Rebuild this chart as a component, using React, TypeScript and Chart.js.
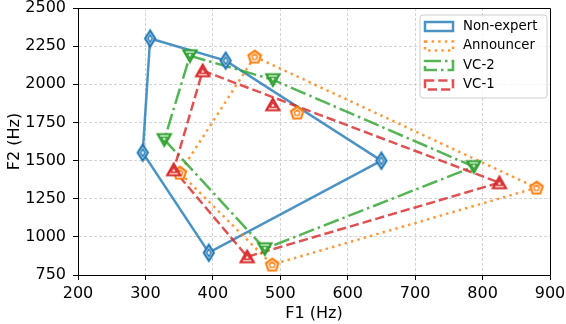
import React, { useEffect, useRef } from 'react';
import { Chart, registerables } from 'chart.js';

Chart.register(...registerables);

const FONT = "'DejaVu Sans', 'Liberation Sans', sans-serif";

// Vowel order: i, e, a, o, u
const vowels = ['i', 'e', 'a', 'o', 'u'];

const nonExpertF1 = [307, 419, 650, 394, 296];
const nonExpertF2 = [2300, 2155, 1499, 896, 1552];
const nonExpertOutline = [0, 1, 2, 3, 4];

const announcerF1 = [462, 525, 880, 488, 351];
const announcerF2 = [2181, 1814, 1322, 818, 1420];
const announcerOutline = [0, 2, 3, 4];

const vc2F1 = [366, 489, 787, 477, 328];
const vc2F2 = [2187, 2030, 1460, 922, 1637];
const vc2Outline = [0, 1, 2, 3, 4];

const vc1F1 = [385, 489, 825, 451, 342];
const vc1F2 = [2089, 1866, 1355, 870, 1440];
const vc1Outline = [0, 2, 3, 4];

const xTickValues = [200, 300, 400, 500, 600, 700, 800, 900];
const yTickValues = [750, 1000, 1250, 1500, 1750, 2000, 2250, 2500];

type Shape = 'thinDiamond' | 'pentagon' | 'triUp' | 'triDown';

function shapePoints(shape: Shape, s: number): [number, number][] {
  if (shape === 'thinDiamond') return [[0, -8 * s], [5 * s, 0], [0, 8 * s], [-5 * s, 0]];
  if (shape === 'pentagon') {
    const pts: [number, number][] = [];
    for (let k = 0; k < 5; k++) {
      const a = -Math.PI / 2 + (k * 2 * Math.PI) / 5;
      pts.push([Math.cos(a) * 6.5 * s, Math.sin(a) * 6.5 * s + 0.5 * s]);
    }
    return pts;
  }
  if (shape === 'triUp') return [[0, -6 * s], [6.5 * s, 5.5 * s], [-6.5 * s, 5.5 * s]];
  return [[0, 6 * s], [-6.5 * s, -5.5 * s], [6.5 * s, -5.5 * s]];
}

function makeMarker(shape: Shape, color: string): HTMLCanvasElement {
  const size = 22;
  const c = document.createElement('canvas');
  c.width = size;
  c.height = size;
  const ctx = c.getContext('2d')!;
  const cx = size / 2;
  const cy = size / 2;
  const trace = (s: number) => {
    const pts = shapePoints(shape, s);
    ctx.beginPath();
    pts.forEach(([x, y], i) => (i === 0 ? ctx.moveTo(cx + x, cy + y) : ctx.lineTo(cx + x, cy + y)));
    ctx.closePath();
  };
  ctx.lineJoin = 'miter';
  trace(1);
  ctx.fillStyle = 'rgba(255,255,255,0.9)';
  ctx.fill();
  ctx.strokeStyle = color;
  ctx.lineWidth = 2.2;
  ctx.stroke();
  trace(0.45);
  ctx.lineWidth = 1.4;
  ctx.stroke();
  return c;
}

interface Series {
  label: string;
  f1: number[];
  f2: number[];
  outline: number[];
  rgb: [number, number, number];
  dash: number[];
  marker: Shape;
}

const legendPlugin = {
  id: 'boxLegend',
  afterDraw(chart: any) {
    const ctx: CanvasRenderingContext2D = chart.ctx;
    const ca = chart.chartArea;
    // axes frame (top & right spines)
    ctx.save();
    ctx.strokeStyle = '#000';
    ctx.lineWidth = 1;
    ctx.beginPath();
    ctx.moveTo(ca.left, ca.top + 0.5);
    ctx.lineTo(ca.right + 0.5, ca.top + 0.5);
    ctx.lineTo(ca.right + 0.5, ca.bottom);
    ctx.stroke();
    ctx.restore();

    const items = chart.data.datasets.filter((d: any) => d.isOutline);
    const x0 = ca.right - 130;
    const y0 = ca.top + 7;
    const w = 127;
    const h = 83;
    ctx.save();
    ctx.beginPath();
    const r = 3;
    ctx.moveTo(x0 + r, y0);
    ctx.arcTo(x0 + w, y0, x0 + w, y0 + h, r);
    ctx.arcTo(x0 + w, y0 + h, x0, y0 + h, r);
    ctx.arcTo(x0, y0 + h, x0, y0, r);
    ctx.arcTo(x0, y0, x0 + w, y0, r);
    ctx.closePath();
    ctx.fillStyle = 'rgba(255,255,255,0.8)';
    ctx.fill();
    ctx.strokeStyle = '#cccccc';
    ctx.lineWidth = 1;
    ctx.stroke();

    items.forEach((d: any, i: number) => {
      const cy = y0 + 11.5 + i * 19.5;
      ctx.save();
      ctx.strokeStyle = d.borderColor;
      ctx.lineWidth = 2.5;
      ctx.setLineDash(d.borderDash || []);
      ctx.lineCap = 'butt';
      ctx.beginPath();
      ctx.rect(x0 + 5, cy - 4.5, 28, 9);
      ctx.stroke();
      ctx.restore();
      ctx.fillStyle = '#000';
      ctx.font = `13.3px ${FONT}`;
      ctx.textBaseline = 'middle';
      ctx.textAlign = 'left';
      ctx.fillText(d.label, x0 + 43, cy);
    });
    ctx.restore();
  },
};

export default function App() {
  const ref = useRef<HTMLCanvasElement>(null);

  useEffect(() => {
    const canvas = ref.current;
    if (!canvas) return;

    const series: Series[] = [
      { label: 'Non-expert', f1: nonExpertF1, f2: nonExpertF2, outline: nonExpertOutline, rgb: [31, 119, 180], dash: [], marker: 'thinDiamond' },
      { label: 'Announcer', f1: announcerF1, f2: announcerF2, outline: announcerOutline, rgb: [255, 127, 14], dash: [2.5, 4.1], marker: 'pentagon' },
      { label: 'VC-2', f1: vc2F1, f2: vc2F2, outline: vc2Outline, rgb: [44, 160, 44], dash: [16, 4, 2.5, 4], marker: 'triDown' },
      { label: 'VC-1', f1: vc1F1, f2: vc1F2, outline: vc1Outline, rgb: [214, 39, 40], dash: [9.25, 4], marker: 'triUp' },
    ];

    const datasets: any[] = [];
    series.forEach((s, i) => {
      const idx = s.outline.concat([s.outline[0]]);
      datasets.push({
        label: s.label,
        isOutline: true,
        data: idx.map((k) => ({ x: s.f1[k], y: s.f2[k] })),
        showLine: true,
        fill: false,
        tension: 0,
        borderColor: `rgba(${s.rgb.join(',')},0.8)`,
        backgroundColor: 'transparent',
        borderWidth: 2.5,
        borderDash: s.dash,
        borderCapStyle: 'butt',
        borderJoinStyle: 'miter',
        pointRadius: 0,
        pointHoverRadius: 0,
        order: 20 - i,
      });
    });
    series.forEach((s, i) => {
      const color = `rgb(${s.rgb.join(',')})`;
      datasets.push({
        label: s.label + ' (' + vowels.join(',') + ')',
        data: s.f1.map((v, k) => ({ x: v, y: s.f2[k] })),
        showLine: false,
        pointStyle: makeMarker(s.marker, color),
        pointRadius: 6,
        pointHoverRadius: 6,
        order: 10 - i,
      });
    });

    const tickFont = { family: FONT, size: 16 };
    const plain = (v: any) => String(v);

    const chart = new Chart(canvas, {
      type: 'scatter',
      data: { datasets },
      options: {
        animation: false,
        responsive: false,
        maintainAspectRatio: false,
        events: [],
        layout: { padding: { left: 0, top: 8, right: 16, bottom: 0 } },
        plugins: { legend: { display: false }, tooltip: { enabled: false } },
        scales: {
          x: {
            type: 'linear',
            min: 200,
            max: 900,
            afterBuildTicks: (scale: any) => {
              scale.ticks = xTickValues.map((v) => ({ value: v }));
            },
            afterFit: (scale: any) => {
              scale.height = 49;
              scale.paddingLeft = 0;
              scale.paddingRight = 0;
            },
            border: { display: true, color: '#000', width: 1, dash: [3, 2] },
            grid: { color: '#c8c8c8', lineWidth: 0.8, tickColor: '#000', tickLength: 5, tickWidth: 1, tickBorderDash: [] },
            ticks: { color: '#000', font: tickFont, padding: 4, maxRotation: 0, autoSkip: false, callback: plain },
            title: { display: true, text: 'F1 (Hz)', color: '#000', font: tickFont, padding: { top: 0, bottom: 1 } },
          },
          y: {
            type: 'linear',
            min: 750,
            max: 2500,
            afterBuildTicks: (scale: any) => {
              scale.ticks = yTickValues.map((v) => ({ value: v }));
            },
            afterFit: (scale: any) => {
              scale.width = 78;
              scale.paddingTop = 0;
              scale.paddingBottom = 0;
            },
            border: { display: true, color: '#000', width: 1, dash: [3, 2] },
            grid: { color: '#c8c8c8', lineWidth: 0.8, tickColor: '#000', tickLength: 5, tickWidth: 1, tickBorderDash: [] },
            ticks: { color: '#000', font: tickFont, padding: 7, autoSkip: false, callback: plain },
            title: { display: true, text: 'F2 (Hz)', color: '#000', font: tickFont, padding: { top: 5, bottom: 0 } },
          },
        },
      } as any,
      plugins: [legendPlugin],
    });

    return () => chart.destroy();
  }, []);

  return (
    <div style={{ position: 'fixed', left: 0, top: 0, width: 566, height: 324, background: '#fff' }}>
      <canvas ref={ref} width={566} height={324} style={{ display: 'block', width: 566, height: 324 }} />
    </div>
  );
}
